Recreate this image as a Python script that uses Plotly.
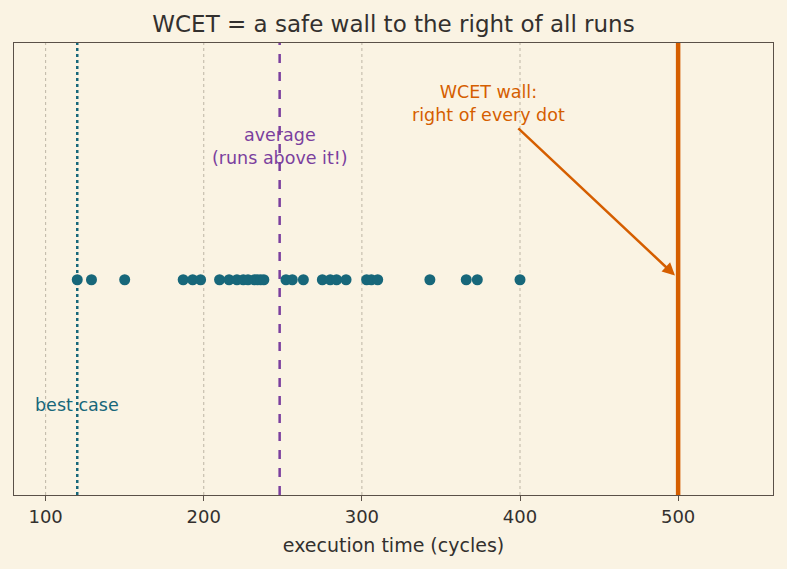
import plotly.graph_objects as go

# execution times of observed runs (cycles)
runs = [120, 129, 150, 187, 193, 198, 210, 216, 221, 225, 228, 232, 234, 236, 238,
        252, 256, 263, 275, 280, 284, 290, 303, 306, 310, 343, 366, 373, 400]
best_case = 120
average = 248
wcet = 500
x_ticks = [100, 200, 300, 400, 500]

BG = "#FAF3E3"
TEAL = "#17677A"
PURPLE = "#7B3F9E"
ORANGE = "#D55E00"
TEXT = "#33302E"
FONT = "DejaVu Sans"

fig = go.Figure()
fig.add_trace(go.Scatter(
    x=runs, y=[0] * len(runs), mode="markers",
    marker=dict(color=TEAL, size=11, line=dict(width=0)),
    showlegend=False, hoverinfo="x"))

shapes = []
for v in x_ticks:
    shapes.append(dict(type="line", xref="x", yref="paper", x0=v, x1=v, y0=0, y1=1,
                       line=dict(color="#BDB5A5", width=1, dash="dot"), layer="below"))
shapes.append(dict(type="line", xref="x", yref="paper", x0=best_case, x1=best_case, y0=0, y1=1,
                   line=dict(color=TEAL, width=2.5, dash="dot")))
shapes.append(dict(type="line", xref="x", yref="paper", x0=average, x1=average, y0=0, y1=1,
                   line=dict(color=PURPLE, width=2.5, dash="dash")))
shapes.append(dict(type="line", xref="x", yref="paper", x0=wcet, x1=wcet, y0=0, y1=1,
                   line=dict(color=ORANGE, width=4.5)))
fig.update_layout(shapes=shapes)

annotations = [
    dict(x=best_case, y=-0.58, xref="x", yref="y", text="best case", showarrow=False,
         font=dict(color=TEAL, size=17.5, family=FONT)),
    dict(x=average, y=0.62, xref="x", yref="y", text="average<br>(runs above it!)",
         showarrow=False, font=dict(color=PURPLE, size=17.5, family=FONT)),
    dict(x=380, y=0.82, xref="x", yref="y", text="WCET wall:<br>right of every dot",
         showarrow=False, font=dict(color=ORANGE, size=17.5, family=FONT)),
    dict(x=wcet - 2, y=0.02, xref="x", yref="y", ax=398, ay=0.71, axref="x", ayref="y",
         text="", showarrow=True, arrowhead=2, arrowsize=1, arrowwidth=2.5,
         arrowcolor=ORANGE),
]
fig.update_layout(annotations=annotations)

fig.update_layout(
    width=787, height=569,
    paper_bgcolor=BG, plot_bgcolor=BG,
    margin=dict(l=14, r=14, t=43, b=74),
    font=dict(family=FONT, color=TEXT, size=18),
    title=dict(text="WCET = a safe wall to the right of all runs", x=0.5, xanchor="center",
               y=1 - 24 / 569, yanchor="middle", font=dict(size=23, color=TEXT, family=FONT)),
    xaxis=dict(range=[80, 560], tickvals=x_ticks, showgrid=False, zeroline=False,
               ticks="outside", ticklen=5, tickcolor="#5A5048", showline=True,
               linecolor="#5A5048", linewidth=1, mirror=True,
               tickfont=dict(size=18, color=TEXT),
               title=dict(text="execution time (cycles)", font=dict(size=19, color=TEXT), standoff=13)),
    yaxis=dict(range=[-1, 1.1], showticklabels=False, showgrid=False, zeroline=False,
               showline=True, linecolor="#5A5048", linewidth=1, mirror=True, ticks=""),
)

fig.write_html("out.html")
